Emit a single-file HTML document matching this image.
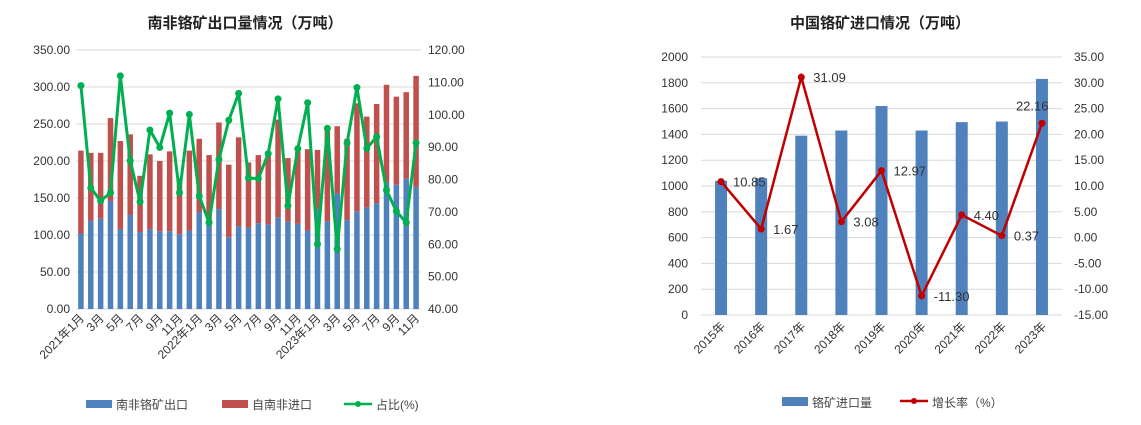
<!DOCTYPE html>
<html><head><meta charset="utf-8">
<style>
body{margin:0;background:#fff;}
svg{display:block;font-family:"Liberation Sans","Noto Sans CJK SC",sans-serif;}
</style></head>
<body>
<svg id="s" width="1141" height="425" xmlns="http://www.w3.org/2000/svg">
<text x="245" y="28" text-anchor="middle" font-size="15" font-weight="bold" fill="#222">南非铬矿出口量情况（万吨）</text>
<text x="880" y="28" text-anchor="middle" font-size="15" font-weight="bold" fill="#222">中国铬矿进口情况（万吨）</text>
<g id="L"></g>
<g id="R"></g>
<g>
<rect x="86" y="400" width="26" height="8" fill="#4f81bd"/>
<text x="116" y="409" font-size="12" fill="#444">南非铬矿出口</text>
<rect x="222" y="400" width="26" height="8" fill="#c0504d"/>
<text x="252" y="409" font-size="12" fill="#444">自南非进口</text>
<line x1="344" y1="404" x2="372" y2="404" stroke="#00b050" stroke-width="2.5"/>
<circle cx="358" cy="404" r="3" fill="#00b050"/>
<text x="376" y="409" font-size="12" fill="#444">占比(%)</text>
</g>
<g>
<rect x="782" y="397" width="26" height="9" fill="#4f81bd"/>
<text x="812" y="407" font-size="12" fill="#444">铬矿进口量</text>
<line x1="900" y1="401" x2="928" y2="401" stroke="#c00000" stroke-width="2.5"/>
<circle cx="914" cy="401" r="3" fill="#c00000"/>
<text x="932" y="407" font-size="12" fill="#444">增长率（%）</text>
</g>
</svg>
<script>
const leftMonths=["2021年1月","2","3月","4","5月","6","7月","8","9月","10","11月","12","2022年1月","2","3月","4","5月","6","7月","8","9月","10","11月","12","2023年1月","2","3月","4","5月","6","7月","8","9月","10","11月"];
const exportVals=[102,119,122,146,108,127,104,108,105,105,101,106,131,119,135,97,112,110,116,114,124,118,115,106,135,118,156,120,132,137,143,171,168,176,165];
const totalVals=[214,211,211,258,227,236,180,209,200,213,177,214,230,208,252,195,232,198,208,211,256,204,213,216,215,246,247,230,278,260,277,303,287,293,315];
const ratioVals=[109.0,77.4,73.4,75.9,112.0,85.8,73.1,95.3,89.9,100.5,75.9,100.1,74.9,66.7,86.2,98.3,106.6,80.4,80.3,88.0,104.9,71.9,89.5,103.7,60.0,95.8,58.5,91.3,108.4,89.6,93.2,76.7,70.2,66.7,91.3];
const leftTicks=["0.00","50.00","100.00","150.00","200.00","250.00","300.00","350.00"];
const leftRightTicks=["40.00","50.00","60.00","70.00","80.00","90.00","100.00","110.00","120.00"];
const years=["2015年","2016年","2017年","2018年","2019年","2020年","2021年","2022年","2023年"];
const importVals=[1040,1060,1390,1430,1620,1430,1495,1500,1830];
const growthVals=[10.85,1.67,31.09,3.08,12.97,-11.30,4.40,0.37,22.16];
const growthLabels=["10.85","1.67","31.09","3.08","12.97","-11.30","4.40","0.37","22.16"];
const rightTicks=["0","200","400","600","800","1000","1200","1400","1600","1800","2000"];
const rightRightTicks=["-15.00","-10.00","-5.00","0.00","5.00","10.00","15.00","20.00","25.00","30.00","35.00"];
const NS="http://www.w3.org/2000/svg";
function mk(p,t,a,txt){const e=document.createElementNS(NS,t);for(const k in a)e.setAttribute(k,a[k]);if(txt!==undefined)e.textContent=txt;p.appendChild(e);return e;}
// LEFT
const L=document.getElementById('L');
const lx0=76,lx1=421,ly0=309,ly1=50;
const yL=v=>ly0-(v/350)*(ly0-ly1);
const yLR=v=>ly0-((v-40)/80)*(ly0-ly1);
const step=(lx1-lx0)/exportVals.length;
const xL=i=>lx0+step*(i+0.5);
leftTicks.forEach((t,i)=>{const y=yL(+t);
 let g=mk(L,'line',{x1:lx0,x2:lx1,y1:y,y2:y,stroke:'#d9d9d9','stroke-width':1});
 
 let e=mk(L,'text',{x:70,y:y+4,'text-anchor':'end','font-size':12,fill:'#333'},t);
 });
leftRightTicks.forEach(t=>{const y=yLR(+t);
 let e=mk(L,'text',{x:428,y:y+4,'font-size':12,fill:'#333'},t);
 });
exportVals.forEach((v,i)=>{const w=5.5;
 let r=mk(L,'rect',{x:xL(i)-w/2,y:yL(totalVals[i]),width:w,height:yL(v)-yL(totalVals[i]),fill:'#c0504d'});
 
 let b=mk(L,'rect',{x:xL(i)-w/2,y:yL(v),width:w,height:ly0-yL(v),fill:'#4f81bd'});
 });
let gp=mk(L,'polyline',{points:ratioVals.map((v,i)=>xL(i)+','+yLR(v)).join(' '),fill:'none',stroke:'#00b050','stroke-width':3,'stroke-linejoin':'round'});

ratioVals.forEach((v,i)=>{let c=mk(L,'circle',{cx:xL(i),cy:yLR(v),r:3.5,fill:'#00b050'});
 });
leftMonths.forEach((m,i)=>{if(i%2)return;const x=xL(i)+4,y=ly0+10;
 let e=mk(L,'text',{x:x,y:y,'text-anchor':'end','font-size':12,fill:'#333',transform:`rotate(-45 ${x} ${y})`},m);
 });
// RIGHT
const R=document.getElementById('R');
const rx0=701,rx1=1062,ry0=315,ry1=57;
const yR=v=>ry0-(v/2000)*(ry0-ry1);
const yRR=v=>ry0-((v+15)/50)*(ry0-ry1);
const rstep=(rx1-rx0)/years.length;
const xR=i=>rx0+rstep*(i+0.5);
rightTicks.forEach(t=>{const y=yR(+t);
 let g=mk(R,'line',{x1:rx0,x2:rx1,y1:y,y2:y,stroke:'#d9d9d9','stroke-width':1});
 
 let e=mk(R,'text',{x:688,y:y+4,'text-anchor':'end','font-size':12,fill:'#333'},t);
 });
rightRightTicks.forEach(t=>{const y=yRR(+t);
 let e=mk(R,'text',{x:1074,y:y+4,'font-size':12,fill:'#333'},t);
 });
importVals.forEach((v,i)=>{const w=12;
 let b=mk(R,'rect',{x:xR(i)-w/2,y:yR(v),width:w,height:ry0-yR(v),fill:'#4f81bd'});
 });
let rp=mk(R,'polyline',{points:growthVals.map((v,i)=>xR(i)+','+yRR(v)).join(' '),fill:'none',stroke:'#c00000','stroke-width':2.5});

growthVals.forEach((v,i)=>{let c=mk(R,'circle',{cx:xR(i),cy:yRR(v),r:3.5,fill:'#c00000'});
 
 const last=i===growthVals.length-1;
 let t=mk(R,'text',{x:last?xR(i)-26:xR(i)+12,y:last?yRR(v)-13:yRR(v)+5,'font-size':13,fill:'#333'},growthLabels[i]);
 });
years.forEach((yv,i)=>{const x=xR(i)+5,y=ry0+12;
 let e=mk(R,'text',{x:x,y:y,'text-anchor':'end','font-size':12,fill:'#333',transform:`rotate(-45 ${x} ${y})`},yv);
 });
</script>
</body></html>
